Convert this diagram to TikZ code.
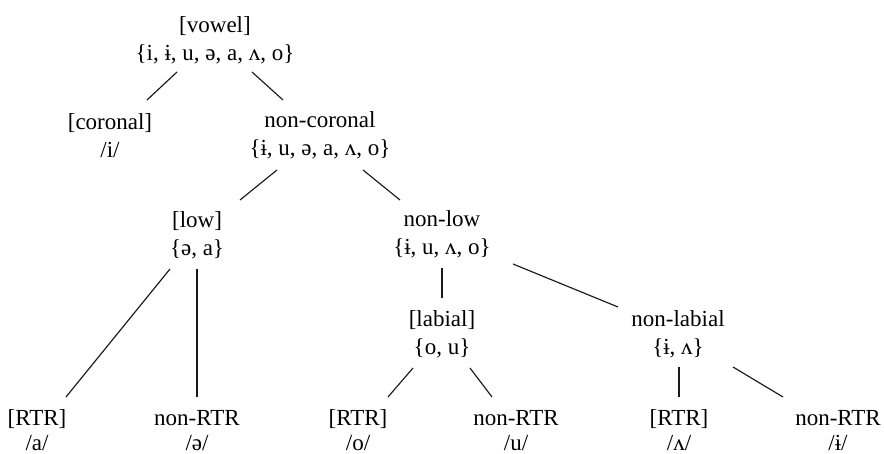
\documentclass[tikz,border=0pt]{standalone}
\usepackage{fontspec}
\setmainfont{Liberation Serif}
\begin{document}
\begin{tikzpicture}[x=1pt,y=-1pt,
  lbl/.style={anchor=base,inner sep=0pt,font=\fontsize{23}{28}\selectfont},
  edge/.style={line width=1.15pt,black!90}]
\useasboundingbox (0,0) rectangle (884,454);
% level 0
\node[lbl] (vowel) at (215,33) {[vowel]};
\node[lbl] (vowels) at (215,61) {\{i, ɨ, u, ə, a, ʌ, o\}};
% level 1
\node[lbl] (cor) at (110,130) {[coronal]};
\node[lbl] (cors) at (110,158) {/i/};
\node[lbl] (ncor) at (320,128) {non-coronal};
\node[lbl] (ncors) at (320,156) {\{ɨ, u, ə, a, ʌ, o\}};
% level 2
\node[lbl] (low) at (197,228) {[low]};
\node[lbl] (lows) at (197,256) {\{ə, a\}};
\node[lbl] (nlow) at (442,227) {non-low};
\node[lbl] (nlows) at (442,255) {\{ɨ, u, ʌ, o\}};
% level 3
\node[lbl] (lab) at (442,327) {[labial]};
\node[lbl] (labs) at (442,355) {\{o, u\}};
\node[lbl] (nlab) at (678,327) {non-labial};
\node[lbl] (nlabs) at (678,355) {\{ɨ, ʌ\}};
% leaves
\node[lbl] (ra) at (37,425) {[RTR]};
\node[lbl] (ras) at (37,450) {/a/};
\node[lbl] (na) at (197,425) {non-RTR};
\node[lbl] (nas) at (197,450) {/ə/};
\node[lbl] (rb) at (358,425) {[RTR]};
\node[lbl] (rbs) at (358,450) {/o/};
\node[lbl] (nb) at (516,425) {non-RTR};
\node[lbl] (nbs) at (516,450) {/u/};
\node[lbl] (rc) at (679,425) {[RTR]};
\node[lbl] (rcs) at (679,450) {/ʌ/};
\node[lbl] (nc) at (838,425) {non-RTR};
\node[lbl] (ncs) at (838,450) {/ɨ/};
% connectors
\draw[edge] ([shift={(-38,11)}]vowels.base) -- ([shift={(37,-30)}]cor.base);
\draw[edge] ([shift={(37,11)}]vowels.base) -- ([shift={(-37,-28)}]ncor.base);
\draw[edge] ([shift={(-43,14)}]ncors.base) -- ([shift={(43,-28)}]low.base);
\draw[edge] ([shift={(43,14)}]ncors.base) -- ([shift={(-42,-27)}]nlow.base);
\draw[edge] ([shift={(-27,13)}]lows.base) -- ([shift={(29,-28)}]ra.base);
\draw[edge] ([shift={(0,13)}]lows.base) -- ([shift={(0,-28)}]na.base);
\draw[edge] ([shift={(0,13)}]nlows.base) -- ([shift={(0,-29)}]lab.base);
\draw[edge] ([shift={(71,9)}]nlows.base) -- ([shift={(-60,-20)}]nlab.base);
\draw[edge] ([shift={(-29,13)}]labs.base) -- ([shift={(30,-28)}]rb.base);
\draw[edge] ([shift={(28,13)}]labs.base) -- ([shift={(-24,-28)}]nb.base);
\draw[edge] ([shift={(1,12)}]nlabs.base) -- ([shift={(0,-28)}]rc.base);
\draw[edge] ([shift={(55,12)}]nlabs.base) -- ([shift={(-55,-28)}]nc.base);
\end{tikzpicture}
\end{document}
